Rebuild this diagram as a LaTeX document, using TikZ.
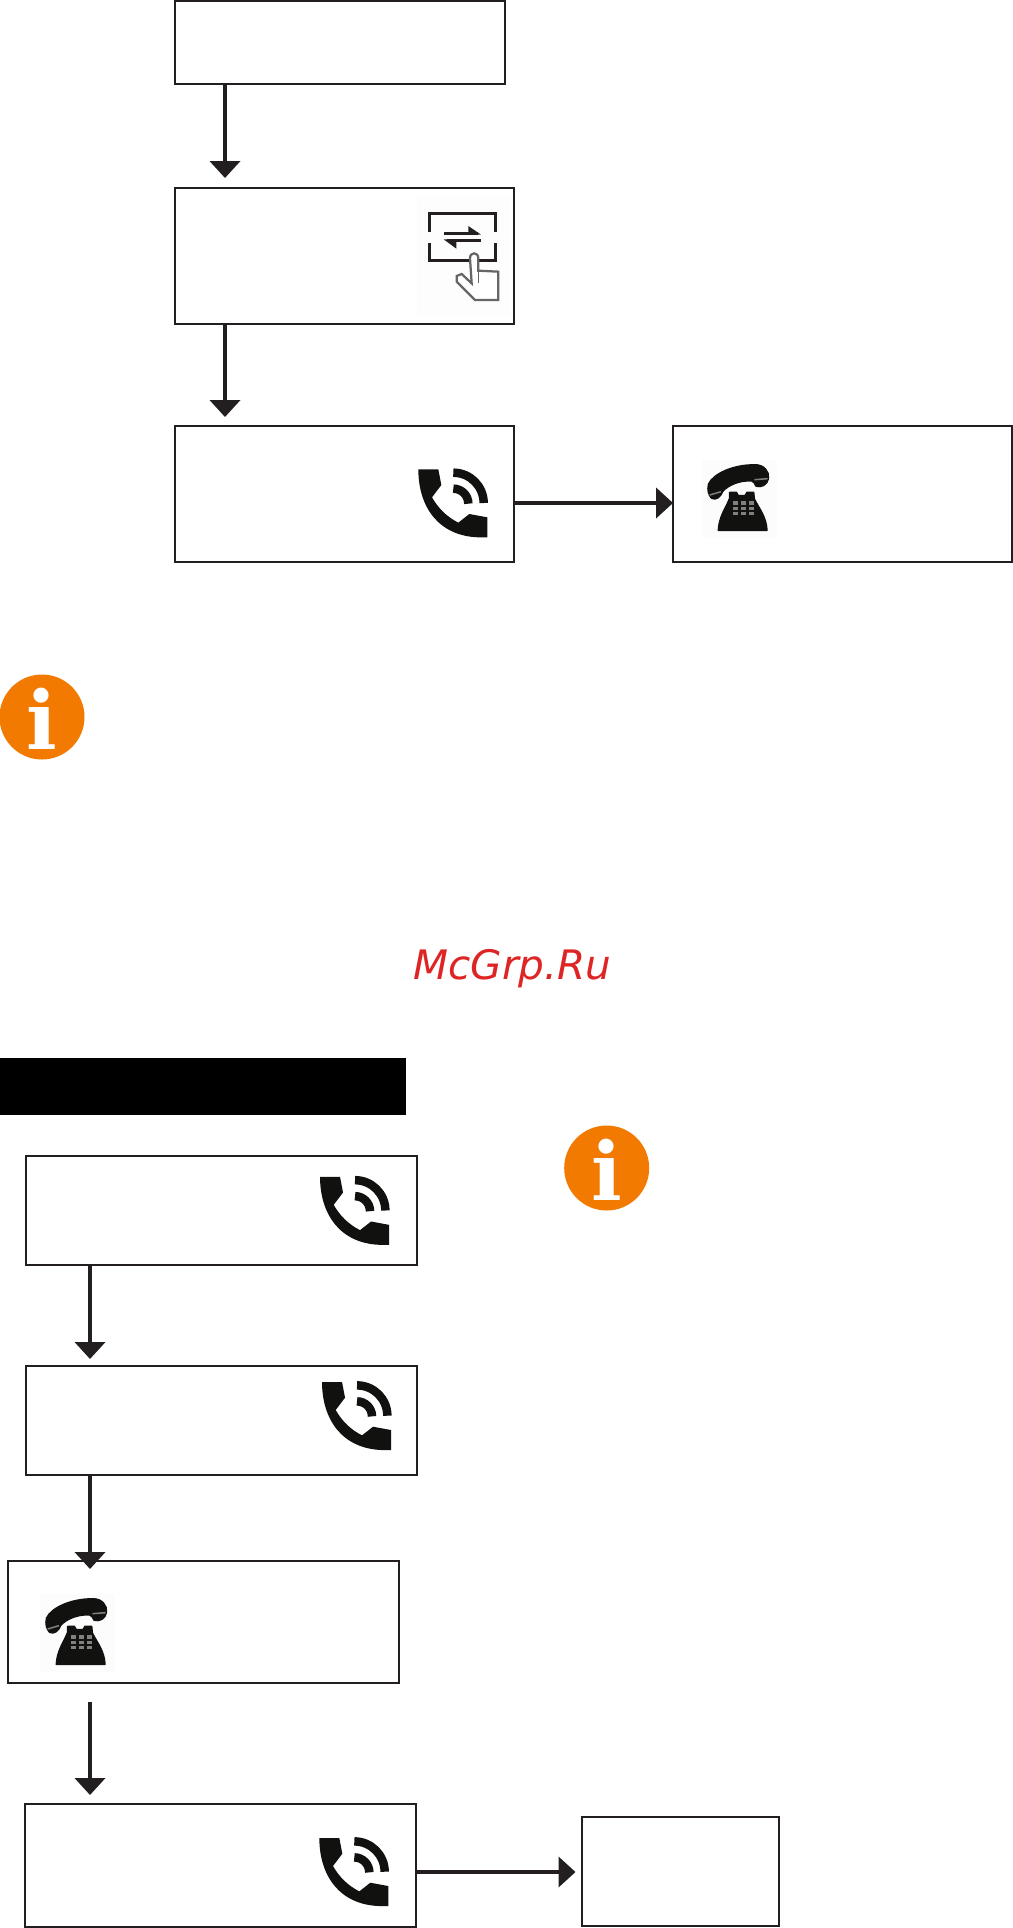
\documentclass[tikz,border=0pt]{standalone}
\usepackage{fontspec}
\usetikzlibrary{arrows.meta}
\newfontfamily\markfont{DejaVu Sans}
\newfontfamily\infofont{DejaVu Serif}
\definecolor{linecol}{HTML}{231F20}
\definecolor{infocol}{HTML}{F27A00}
\definecolor{markcol}{HTML}{DE2525}
\definecolor{iconcol}{HTML}{11110F}
\tikzset{
	panel/.style={draw=linecol, line width=0.4mm, fill=white, inner sep=0, outer sep=0},
	arr/.style={draw=linecol, line width=0.8mm, -{Triangle[length=3.4mm, width=6mm, fill=linecol]}},
	pics/handset/.style={code={
		\begin{scope}[scale=0.3333]
			\fill[iconcol] (25,28) -- (85,28) -- (94,75) -- (66,112)
				.. controls (85,145) and (110,170) .. (145,188)
				-- (178,162) -- (232,172) -- (232,232) -- (205,232)
				.. controls (85,228) and (25,140) .. cycle;
			\draw[iconcol, line width=1.7mm] (130,38) arc (-90:0:91);
			\draw[iconcol, line width=1.7mm] (130,86) arc (-90:0:45);
		\end{scope}
	}},
	pics/deskset/.style={code={
		\begin{scope}[scale=0.3333]
			\fill[black!1] (20,15) rectangle (245,250);
			\filldraw[iconcol, line width=0.5mm, line join=round] (42,88) .. controls (55,58) and (115,30) .. (180,31)
				.. controls (205,30) and (222,50) .. (219,70)
				.. controls (215,90) and (198,96) .. (184,92)
				.. controls (180,84) and (178,78) .. (170,76)
				.. controls (135,74) and (100,88) .. (82,108)
				.. controls (76,124) and (62,136) .. (50,128)
				.. controls (42,118) and (38,105) .. cycle;
			\draw[black!50, line width=0.3mm] (178,74) -- (218,71);
			\draw[black!50, line width=0.3mm] (44,120) -- (78,110);
			\filldraw[iconcol, line width=0.3mm, line join=round] (104,130) -- (104,112) -- (124,112) -- (130,122) -- (150,122)
				-- (156,112) -- (176,112) -- (178,132)
				.. controls (192,160) and (214,185) .. (216,226)
				-- (70,226) .. controls (72,185) and (92,160) .. cycle;
			\foreach \kx in {121,145,169}
				\foreach \ky in {144,160,176}
					\fill[black!50] (\kx-7,\ky-5) rectangle (\kx+7,\ky+5);
		\end{scope}
	}},
	pics/infomark/.style={code={
		\fill[infocol] (0,0) circle (42.5);
		\node[white, anchor=base, inner sep=0] (#1) at (0,32) {\fontsize{46}{46}\selectfont\infofont\bfseries i};
	}}
}

\begin{document}
\begin{tikzpicture}[x=0.02cm, y=-0.02cm]
	\useasboundingbox (0,0) rectangle (1013,1928);
	
	\coordinate (ax) at (225,0);
	\coordinate (bx) at (90,0);
	\coordinate (r1) at (0,503);
	\coordinate (r2) at (0,1872);
	\coordinate (f1) at (90,1702);
	
	\node[panel, minimum width=6.6cm, minimum height=1.66cm] (b1) at (340,42.5) {};
	\node[panel, minimum width=6.78cm, minimum height=2.72cm] (b2) at (344.5,256) {};
	\node[panel, minimum width=6.78cm, minimum height=2.72cm] (b3) at (344.5,494) {};
	\node[panel, minimum width=6.78cm, minimum height=2.72cm] (b4) at (842.5,494) {};
	
	\node[fill=black, inner sep=0, minimum width=8.12cm, minimum height=1.14cm] (bar) at (203,1086.5) {};
	
	\node[panel, minimum width=7.82cm, minimum height=2.18cm] (b5) at (221.5,1210.5) {};
	\node[panel, minimum width=7.82cm, minimum height=2.18cm] (b6) at (221.5,1420.5) {};
	\node[panel, minimum width=7.82cm, minimum height=2.44cm] (b7) at (203.5,1622) {};
	\node[panel, minimum width=7.82cm, minimum height=2.46cm] (b8) at (220.5,1865.5) {};
	\node[panel, minimum width=3.96cm, minimum height=2.18cm] (b9) at (680.5,1871.5) {};
	
	\draw[arr, shorten >=2mm] (b1.south -| ax) -- (b2.north -| ax);
	\draw[arr, shorten >=1.8mm] (b2.south -| ax) -- (b3.north -| ax);
	\draw[arr] (b3.east |- r1) -- (b4.west |- r1);
	\draw[arr, shorten >=1.4mm] (b5.south -| bx) -- (b6.north -| bx);
	\draw[arr, shorten >=-1.6mm] (b6.south -| bx) -- (b7.north -| bx);
	\draw[arr, shorten >=1.8mm] (f1) -- (b8.north -| bx);
	\draw[arr, shorten >=1.2mm] (b8.east |- r2) -- (b9.west |- r2);
	
	% icons
	\pic at (410,460) {handset};
	\pic at (311.7,1167.5) {handset};
	\pic at (313.7,1372.7) {handset};
	\pic at (311,1828.7) {handset};
	\pic at (695,455) {deskset};
	\pic at (33,1589) {deskset};
	
	% tap icon
	\begin{scope}[shift={(415,200)}, scale=0.3333]
		\fill[black!0.7] (5,-10) rectangle (285,345);
		\draw[linecol, line width=0.6mm] (42,95) -- (42,40) -- (243,40) -- (243,95);
		\draw[linecol, line width=0.6mm] (42,130) -- (42,180) -- (243,180) -- (243,130);
		\draw[linecol, line width=0.7mm] (88,101) -- (190,101);
		\fill[linecol] (198,104) -- (160,78) -- (160,104) -- cycle;
		\draw[linecol, line width=0.7mm] (197,121) -- (95,121);
		\fill[linecol] (86,118) -- (124,146) -- (124,118) -- cycle;
		\draw[black!60, fill=white, line width=0.45mm] (170,250) -- (165,175)
			.. controls (165,155) and (190,155) .. (190,175) -- (190,212)
			-- (250,215) -- (250,300) -- (180,300) -- (125,245) -- (125,228)
			-- (140,222) -- cycle;
		\draw[black!60, line width=0.3mm] (190,212) -- (190,250);
	\end{scope}
	
	\pic at (42,717) {infomark=i1};
	\pic at (606.7,1168) {infomark=i2};
	
	\node[markcol, anchor=base, inner sep=0] (wm) at (512.5,979) {\fontsize{23.1}{24}\markfont\itshape McGrp.Ru};
\end{tikzpicture}
\end{document}
